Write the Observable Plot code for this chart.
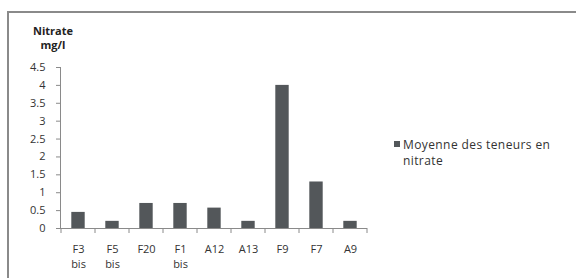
<!DOCTYPE html>
<html><head><meta charset="utf-8">
<script src="https://cdn.jsdelivr.net/npm/d3@7"></script>
<script src="https://cdn.jsdelivr.net/npm/@observablehq/plot@0.6"></script>
<style>
body{margin:0;width:576px;height:278px;overflow:hidden;background:#fff;font-family:"Open Sans",sans-serif;position:relative}
#frame{position:absolute;left:7px;top:11px;width:600px;height:300px;border-left:2px solid #8a8a8a;border-top:2px solid #8a8a8a;box-sizing:border-box}
#chart{position:absolute;left:0;top:0}
#ytitle{position:absolute;left:23px;top:24px;width:60px;text-align:center;font-size:11px;line-height:14px;font-weight:bold;color:#222}
#legend{position:absolute;left:394px;top:137px;font-size:12px;line-height:16px;color:#333;letter-spacing:0.4px}
#legend .sw{position:absolute;left:0;top:4px;width:6px;height:6px;background:#53575a}
#legend .tx{margin-left:9px;width:180px}
</style></head>
<body>
<div id="frame"></div>
<div id="chart"></div>
<div id="ytitle">Nitrate<br>mg/l</div>
<div id="legend"><div class="sw"></div><div class="tx">Moyenne des teneurs en<br>nitrate</div></div>
<script>
const categories = ["F3\nbis","F5\nbis","F20","F1\nbis","A12","A13","F9","F7","A9"];
const values = [0.45,0.2,0.7,0.7,0.57,0.2,4.0,1.3,0.2];
const yTicks = [0,0.5,1,1.5,2,2.5,3,3.5,4,4.5];
const seriesName = "Moyenne des teneurs en nitrate";

const data = categories.map((c,i)=>({cat:c, value:values[i], series:seriesName}));

const plot = Plot.plot({
  width:576, height:278,
  marginLeft:60, marginRight:209, marginTop:67, marginBottom:50,
  style:{fontFamily:"'Open Sans', sans-serif", fontSize:"11px", color:"#333", background:"transparent"},
  x:{domain:categories, padding:0, label:null},
  y:{domain:[0,4.5], label:null},
  marks:[
    Plot.barY(data,{x:"cat", y:"value", fill:"#53575a", insetLeft:10.3, insetRight:10.3}),
    Plot.frame({anchor:"left", stroke:"#8a8a8a"}),
    Plot.ruleY([0],{stroke:"#8a8a8a"}),
    Plot.axisY({ticks:yTicks, tickSize:4, tickPadding:11, stroke:"#8a8a8a", tickFormat:d=>String(d), fill:"#333", label:null}),
    Plot.axisX({tickSize:0, tickPadding:14, fill:"#333", lineHeight:1.35, label:null})
  ]
});
document.getElementById("chart").appendChild(plot);

// category boundary ticks (Excel-style) from the x scale
const xs = plot.scale("x");
const ys = plot.scale("y");
const y0 = ys.apply(0);
const bounds = categories.map(c=>xs.apply(c)).concat([xs.apply(categories[categories.length-1])+xs.bandwidth]);
const svg = d3.select(plot);
svg.append("g").selectAll("line").data(bounds).join("line")
  .attr("x1",d=>d).attr("x2",d=>d).attr("y1",y0).attr("y2",y0+5)
  .attr("stroke","#8a8a8a");
</script>
</body></html>
